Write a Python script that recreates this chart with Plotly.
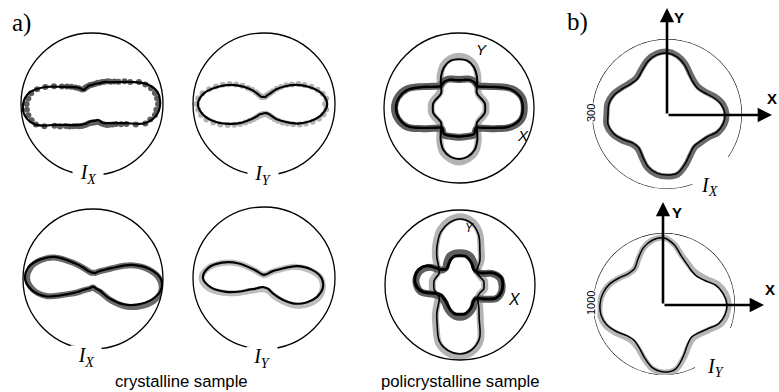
import numpy as np
import plotly.graph_objects as go

W, H = 779, 392

# polar sampling angles (degrees)
ANG10 = list(range(0, 360, 10))
ANG5 = list(range(0, 360, 5))

# ---- a) crystalline sample, I_X (top) ----
crys_ix_top_fit = [96, 94, 82, 62, 48, 40, 36, 31, 29, 27, 26, 24, 23, 30, 37, 48, 70, 90,
                   97, 96, 85, 59, 46, 39, 34, 30, 26, 24, 24, 24, 31, 35, 42, 54, 79, 92]
crys_ix_top_meas = [93, 92, 90, 86, 80, 73, 62, 56, 49, 45, 41, 39, 36, 34, 32, 31, 29, 28,
                    27, 27, 26, 25, 25, 24, 24, 25, 29, 33, 38, 43, 49, 59, 70, 80, 87, 90,
                    92, 92, 91, 88, 84, 74, 61, 55, 48, 45, 41, 38, 36, 34, 32, 30, 28, 27,
                    26, 26, 26, 26, 27, 30, 33, 36, 38, 41, 44, 50, 56, 68, 80, 85, 90, 91]

# ---- a) crystalline sample, I_Y (top) ----
crys_iy_top_fit = [89, 83, 69, 54, 39, 27, 17, 13, 10, 10, 10, 11, 15, 25, 38, 54, 70, 86,
                   93, 87, 73, 56, 41, 28, 20, 15, 14, 13, 13, 14, 18, 28, 39, 55, 70, 83]
crys_iy_top_meas = [86, 88, 84, 78, 71, 63, 56, 48, 41, 34, 28, 22, 18, 15, 13, 12, 11, 10,
                    10, 10, 10, 10, 11, 13, 16, 20, 26, 32, 40, 48, 56, 64, 72, 80, 88, 93,
                    95, 93, 90, 84, 76, 68, 59, 51, 44, 37, 31, 26, 22, 19, 17, 16, 15, 14,
                    14, 14, 14, 15, 16, 18, 21, 26, 31, 37, 43, 50, 58, 65, 73, 80, 85, 88]

# ---- a) policrystalline sample (top): X and Y ----
poly_top_x_fit = [85, 83, 73, 56, 44, 38, 40, 40, 38, 37, 38, 40, 40, 38, 44, 56, 72, 81,
                  84, 81, 72, 53, 41, 35, 40, 39, 38, 38, 38, 39, 40, 35, 41, 53, 72, 83]
poly_top_x_meas = [87, 85, 75, 57, 45, 39, 41, 41, 39, 38, 39, 41, 41, 39, 45, 57, 74, 83,
                   86, 83, 74, 55, 42, 36, 41, 40, 39, 39, 39, 40, 41, 36, 42, 55, 74, 85]
poly_top_y_fit = [35, 35, 33, 31, 31, 37, 48, 58, 64, 65, 64, 58, 48, 37, 31, 31, 33, 35,
                  35, 35, 33, 31, 31, 37, 49, 60, 66, 68, 66, 60, 49, 37, 31, 31, 33, 35]
poly_top_y_meas = [36, 36, 34, 32, 33, 39, 50, 61, 67, 69, 67, 61, 50, 39, 33, 33, 35, 37,
                   37, 37, 35, 33, 33, 39, 51, 63, 69, 72, 69, 63, 51, 39, 33, 32, 34, 36]

# ---- a) crystalline sample, I_X (bottom) ----
crys_ix_bot_fit = [97, 82, 59, 31, 20, 15, 11, 9, 9, 9, 9, 11, 13, 21, 36, 63, 81, 94,
                   97, 89, 72, 44, 29, 20, 16, 14, 12, 11, 12, 15, 19, 36, 56, 73, 88, 98]
crys_ix_bot_meas = [95, 80, 57, 30, 19, 14, 11, 9, 9, 9, 9, 10, 13, 20, 35, 61, 79, 91,
                    94, 87, 71, 44, 30, 21, 17, 15, 13, 12, 14, 17, 22, 40, 61, 78, 92, 99]

# ---- a) crystalline sample, I_Y (bottom) ----
crys_iy_bot_fit = [81, 68, 49, 24, 14, 8, 6, 5, 5, 4, 5, 5, 6, 9, 18, 41, 63, 80,
                   86, 76, 57, 38, 25, 20, 16, 14, 13, 13, 14, 16, 25, 39, 56, 69, 79, 84]
crys_iy_bot_meas = [80, 65, 46, 22, 12, 7, 5, 5, 4, 4, 4, 5, 6, 8, 17, 40, 62, 80,
                    88, 80, 61, 42, 29, 23, 19, 17, 16, 16, 17, 20, 30, 44, 61, 73, 82, 84]

# ---- a) policrystalline sample (bottom): X and Y ----
poly_bot_x_fit = [57, 56, 47, 32, 28, 28, 32, 36, 39, 39, 39, 36, 31, 28, 32, 51, 59, 61,
                  59, 51, 33, 28, 28, 29, 32, 36, 39, 39, 39, 36, 32, 28, 28, 37, 51, 56]
poly_bot_x_meas = [56, 54, 45, 31, 29, 31, 36, 41, 43, 43, 43, 41, 35, 30, 31, 47, 56, 59,
                   58, 53, 37, 31, 30, 31, 35, 39, 42, 43, 42, 39, 35, 30, 29, 38, 52, 56]
poly_bot_y_fit = [32, 32, 29, 28, 29, 41, 53, 72, 84, 88, 84, 75, 61, 48, 37, 32, 33, 35,
                  35, 35, 33, 32, 37, 48, 61, 80, 89, 92, 88, 76, 51, 39, 31, 28, 29, 32]
poly_bot_y_meas = [33, 33, 30, 29, 31, 44, 56, 75, 87, 91, 87, 78, 64, 51, 40, 34, 35, 37,
                   37, 37, 35, 34, 40, 51, 64, 83, 92, 95, 91, 79, 54, 41, 33, 29, 30, 33]

# ---- b) I_X (counts, scale circle 300) ----
b_ix_fit = [232, 220, 196, 172, 160, 164, 180, 208, 232, 244, 240, 224, 200, 184, 188, 204, 224, 236,
            236, 240, 228, 204, 180, 176, 196, 224, 240, 244, 240, 212, 184, 168, 172, 184, 212, 228]
b_ix_meas = [238, 228, 204, 178, 166, 170, 186, 214, 238, 250, 246, 230, 206, 190, 194, 210, 230, 242,
             242, 246, 234, 210, 186, 182, 202, 230, 246, 250, 246, 218, 190, 174, 178, 190, 218, 234]
b_ix_scale = 300

# ---- b) I_Y (counts, scale circle 1000) ----
b_iy_fit = [887, 845, 775, 662, 606, 606, 648, 718, 845, 930, 915, 845, 732, 648, 662, 732, 817, 873,
            901, 901, 859, 775, 690, 662, 704, 803, 915, 958, 930, 789, 662, 606, 634, 704, 817, 873]
b_iy_meas = [910, 880, 810, 700, 640, 630, 665, 730, 850, 935, 915, 840, 725, 645, 660, 730, 815, 875,
             905, 915, 880, 800, 720, 690, 725, 820, 930, 965, 940, 810, 690, 635, 660, 730, 845, 895]
b_iy_scale = 1000

DARK = "#5e5e5e"
LIGHT = "#b3b3b3"


def closed(theta, r):
    return list(theta) + [theta[0] + 360], list(r) + [r[0]]


def dom(cx, cy, R):
    return dict(x=[(cx - R) / W, (cx + R) / W], y=[1 - (cy + R) / H, 1 - (cy - R) / H])


def polar(cx, cy, R, rmax, frame):
    return dict(
        domain=dom(cx, cy, R),
        bgcolor="rgba(0,0,0,0)",
        radialaxis=dict(range=[0, rmax], visible=False),
        angularaxis=dict(showline=frame, linecolor="black", linewidth=1.3,
                         showgrid=False, showticklabels=False, ticks=""),
    )


fig = go.Figure()


def band(sub, theta, r, color, width):
    t, rr = closed(theta, r)
    fig.add_trace(go.Scatterpolar(theta=t, r=rr, mode="lines", subplot=sub, cliponaxis=False,
                                  line=dict(color=color, width=width, shape="spline", smoothing=1.0),
                                  hoverinfo="skip"))


def dots(sub, theta, r, color):
    fig.add_trace(go.Scatterpolar(theta=theta, r=r, mode="markers", subplot=sub, cliponaxis=False,
                                  marker=dict(color=color, size=6, line=dict(width=0)),
                                  hoverinfo="skip"))


def fit(sub, theta, r, width=2.0):
    t, rr = closed(theta, r)
    fig.add_trace(go.Scatterpolar(theta=t, r=rr, mode="lines", subplot=sub, cliponaxis=False,
                                  line=dict(color="black", width=width, shape="spline", smoothing=1.0),
                                  hoverinfo="skip"))


# panel layout (centre x, centre y, radius in px)
P1 = (92, 104, 71)
P2 = (264, 104, 71)
P3 = (459, 108, 75)
P4 = (93, 279, 70)
P5 = (264, 278, 71)
P6 = (460, 285, 75)
B1 = (667, 114, 75)
B2 = (664, 304, 71)

# a) crystalline, top
dots("polar", ANG5, crys_ix_top_meas, DARK)
fit("polar", ANG10, crys_ix_top_fit, 2.2)
dots("polar2", ANG5, crys_iy_top_meas, LIGHT)
fit("polar2", ANG10, crys_iy_top_fit, 2.2)

# a) policrystalline, top
band("polar3", ANG10, poly_top_y_meas, LIGHT, 7)
band("polar3", ANG10, poly_top_x_meas, DARK, 7)
fit("polar3", ANG10, poly_top_y_fit, 2.0)
fit("polar3", ANG10, poly_top_x_fit, 2.4)

# a) crystalline, bottom
band("polar4", ANG10, crys_ix_bot_meas, "#6a6a6a", 6)
fit("polar4", ANG10, crys_ix_bot_fit, 2.2)
band("polar5", ANG10, crys_iy_bot_meas, "#bdbdbd", 6)
fit("polar5", ANG10, crys_iy_bot_fit, 2.2)

# a) policrystalline, bottom
band("polar6", ANG10, poly_bot_y_meas, LIGHT, 7)
band("polar6", ANG10, poly_bot_x_meas, DARK, 7)
fit("polar6", ANG10, poly_bot_y_fit, 1.6)
fit("polar6", ANG10, poly_bot_x_fit, 3.0)

# b) reference arcs and curves
arc1 = np.linspace(-35, 290, 200)
fig.add_trace(go.Scatterpolar(theta=arc1, r=[b_ix_scale] * len(arc1), mode="lines", subplot="polar7",
                              cliponaxis=False, line=dict(color="black", width=1.2), hoverinfo="skip"))
band("polar7", ANG10, b_ix_meas, "#6b6b6b", 6)
fit("polar7", ANG10, b_ix_fit, 1.5)

arc2 = np.linspace(-20, 296, 200)
fig.add_trace(go.Scatterpolar(theta=arc2, r=[b_iy_scale] * len(arc2), mode="lines", subplot="polar8",
                              cliponaxis=False, line=dict(color="black", width=1.2), hoverinfo="skip"))
band("polar8", ANG10, b_iy_meas, "#b5b5b5", 6)
fit("polar8", ANG10, b_iy_fit, 1.5)

layout = dict(
    width=W, height=H, margin=dict(l=0, r=0, t=0, b=0),
    paper_bgcolor="white", plot_bgcolor="white", showlegend=False, template="none",
    polar=polar(*P1, 100, True), polar2=polar(*P2, 100, True), polar3=polar(*P3, 100, True),
    polar4=polar(*P4, 100, True), polar5=polar(*P5, 100, True), polar6=polar(*P6, 100, True),
    polar7=polar(*B1, b_ix_scale, False), polar8=polar(*B2, b_iy_scale, False),
)
fig.update_layout(**layout)

SERIF = "Liberation Serif"
SANS = "Liberation Sans"


def px(x, y):
    return x / W, 1 - y / H


def label(x, y, text, size, family, bg=None, w=None, hgt=None, angle=0, color="black"):
    xx, yy = px(x, y)
    kw = dict(x=xx, y=yy, xref="paper", yref="paper", text=text, showarrow=False,
              font=dict(family=family, size=size, color=color), xanchor="center", yanchor="middle",
              textangle=angle)
    if bg:
        kw.update(bgcolor=bg, borderpad=0)
    if w:
        kw["width"] = w
    if hgt:
        kw["height"] = hgt
    fig.add_annotation(**kw)


IX = "<i>I</i><sub><i>X</i></sub>"
IY = "<i>I</i><sub><i>Y</i></sub>"

label(21, 23, "a)", 25, SERIF)
label(577, 22, "b)", 25, SERIF)

label(88, 174, IX, 20, SERIF, bg="white", w=30, hgt=22)
label(263, 175, IY, 20, SERIF, bg="white", w=30, hgt=22)
label(86, 357, IX, 20, SERIF, bg="white", w=30, hgt=22)
label(262, 358, IY, 20, SERIF, bg="white", w=30, hgt=22)
label(709, 186, IX, 20, SERIF)
label(716, 367, IY, 20, SERIF)

label(481, 50, "<i>Y</i>", 15, SANS)
label(523, 135, "<i>X</i>", 15, SANS)
label(469, 228, "<i>Y</i>", 12, SANS)
label(514, 299, "<i>X</i>", 16, SANS)

label(181, 381, "crystalline sample", 16.7, SANS)
label(460, 381, "policrystalline sample", 16.7, SANS)

label(591, 113, "300", 11, SANS, bg="white", angle=-90)
label(591, 303, "1000", 11, SANS, bg="white", angle=-90)


def arrow(x0, y0, x1, y1):
    hx, hy = px(x1, y1)
    fig.add_annotation(x=hx, y=hy, xref="paper", yref="paper", ax=x0 - x1, ay=y0 - y1,
                       axref="pixel", ayref="pixel", text="", showarrow=True,
                       arrowhead=2, arrowsize=1.1, arrowwidth=2.6, arrowcolor="black", standoff=0)


arrow(667, 115, 667, 8)
arrow(667, 115, 772, 115)
arrow(663, 305, 663, 202)
arrow(663, 305, 764, 305)

label(679, 17, "<b>Y</b>", 15, SANS)
label(772, 98, "<b>X</b>", 15, SANS)
label(677, 212, "<b>Y</b>", 15, SANS)
label(770, 289, "<b>X</b>", 15, SANS)

fig.write_html("out.html")
